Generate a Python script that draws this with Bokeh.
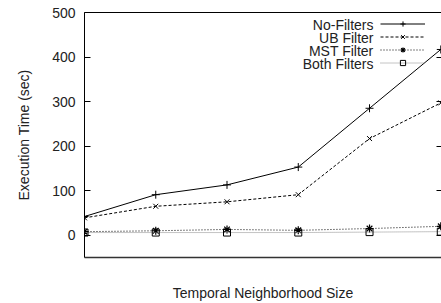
from bokeh.plotting import figure
from bokeh.models import (Range1d, LinearAxis, FixedTicker,
                          Legend, LegendItem, Label, CustomJSTickFormatter)
from bokeh.embed import file_html
from bokeh.resources import INLINE

# ---- data ----
sizes = [0, 1, 2, 3, 4, 5]
no_filters = [42, 91, 113, 153, 285, 417]
ub_filter = [39, 65, 75, 91, 217, 297]
mst_filter = [8, 10, 13, 11, 15, 20]
both_filters = [6, 6, 6, 6, 7, 8]
series_names = ["No-Filters", "UB Filter", "MST Filter", "Both Filters"]
y_ticks = [0, 100, 200, 300, 400, 500]

FONT = "Liberation Sans"
FS = "14px"

p = figure(width=441, height=303, output_backend="svg", toolbar_location=None,
           x_range=Range1d(0, 5.01), y_range=Range1d(-50, 500),
           min_border_left=84, min_border_right=0, min_border_top=12, min_border_bottom=0)
p.outline_line_color = None
p.xgrid.visible = False
p.ygrid.visible = False
p.background_fill_color = "white"
p.border_fill_color = "white"

# left axis
ya = p.yaxis[0]
ya.ticker = FixedTicker(ticks=y_ticks)
ya.minor_tick_line_color = None
ya.major_tick_in = 6
ya.major_tick_out = 0
ya.major_label_standoff = 9
ya.major_label_text_font = FONT
ya.major_label_text_font_size = FS
ya.major_label_text_color = "#222222"
ya.axis_label = "Execution Time (sec)"
ya.axis_label_text_font = FONT
ya.axis_label_text_font_size = FS
ya.axis_label_text_font_style = "normal"
ya.axis_label_text_color = "#222222"
ya.axis_label_standoff = 17
ya.axis_line_color = "black"

# bottom axis
xa = p.xaxis[0]
xa.ticker = FixedTicker(ticks=[])
xa.minor_tick_line_color = None
xa.major_tick_in = 0
xa.major_tick_out = 0
xa.major_label_standoff = 0
xa.axis_label = "Temporal Neighborhood Size"
xa.axis_label_text_font = FONT
xa.axis_label_text_font_size = FS
xa.axis_label_text_font_style = "normal"
xa.axis_label_text_color = "#222222"
xa.axis_label_standoff = 27
xa.axis_line_color = "#333333"
xa.axis_line_width = 1.5

# top border
top = LinearAxis(ticker=FixedTicker(ticks=[]), major_tick_in=0, major_tick_out=0,
                 major_label_standoff=0, minor_tick_line_color=None,
                 axis_line_color="black")
p.add_layout(top, "above")

# right mirror ticks
right = LinearAxis(ticker=FixedTicker(ticks=y_ticks), major_tick_in=5, major_tick_out=0,
                   major_label_standoff=0, minor_tick_line_color=None,
                   major_label_text_font_size="0px", axis_line_color=None,
                   formatter=CustomJSTickFormatter(code="return ''"))
p.add_layout(right, "right")

# series
r1l = p.line(sizes, no_filters, line_color="black", line_width=1)
r1m = p.scatter(sizes, no_filters, marker="cross", size=8, line_color="black", line_width=1)
r2l = p.line(sizes, ub_filter, line_color="black", line_width=1, line_dash="3 2")
r2m = p.scatter(sizes, ub_filter, marker="x", size=7, line_color="black", line_width=1)
r3l = p.line(sizes, mst_filter, line_color="black", line_width=1, line_dash="1 2")
r3m = p.scatter(sizes, mst_filter, marker="asterisk", size=8, line_color="black", line_width=1.2)
r4l = p.line(sizes, both_filters, line_color="#888888", line_width=1, line_dash="1 1")
r4m = p.scatter(sizes, both_filters, marker="square", size=7, line_color="black",
                fill_color=None, line_width=1)

# legend glyph samples (right side), texts as right-aligned labels
items = [LegendItem(label=" ", renderers=[r1l, r1m]),
         LegendItem(label=" ", renderers=[r2l, r2m]),
         LegendItem(label=" ", renderers=[r3l, r3m]),
         LegendItem(label=" ", renderers=[r4l, r4m])]
leg = Legend(items=items, location=(296, 188), glyph_width=45, glyph_height=13,
             label_height=13, label_width=0, label_standoff=0, spacing=0, padding=0,
             margin=0, border_line_color=None, background_fill_alpha=0,
             label_text_font_size="1px")
p.add_layout(leg)

row_y = [233, 220, 207, 194]
for name, yy in zip(series_names, row_y):
    p.add_layout(Label(x=289, y=yy, x_units="screen", y_units="screen", text=name,
                       text_align="right", text_baseline="middle",
                       text_font=FONT, text_font_size=FS, text_color="#222222"))

open("out.html", "w").write(file_html(p, INLINE))
